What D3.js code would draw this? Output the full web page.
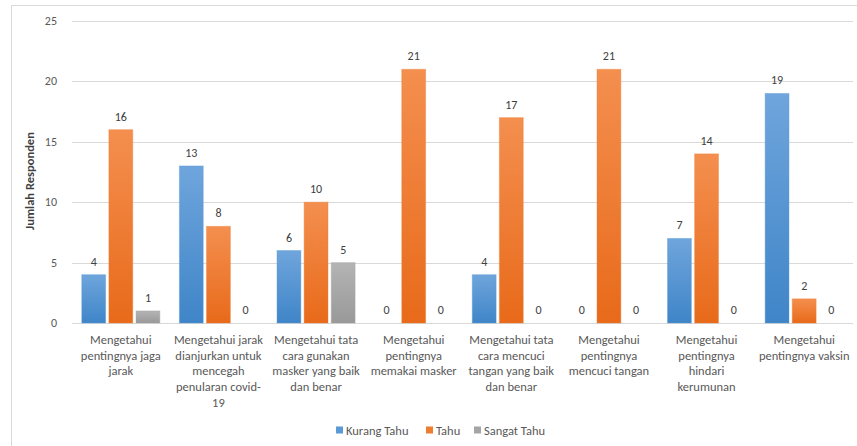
<!DOCTYPE html>
<html>
<head>
<meta charset="utf-8">
<style>
  body { margin: 0; background: #fff; }
  text { font-family: Calibri, Carlito, Lato, sans-serif; }
</style>
</head>
<body>
<svg width="857" height="446"></svg>
<script src="https://d3js.org/d3.v7.min.js"></script>
<script>
// data
var categories = [
  ["Mengetahui", "pentingnya jaga", "jarak"],
  ["Mengetahui jarak", "dianjurkan untuk", "mencegah", "penularan covid-", "19"],
  ["Mengetahui tata", "cara gunakan", "masker yang baik", "dan benar"],
  ["Mengetahui", "pentingnya", "memakai masker"],
  ["Mengetahui tata", "cara mencuci", "tangan yang baik", "dan benar"],
  ["Mengetahui", "pentingnya", "mencuci tangan"],
  ["Mengetahui", "pentingnya", "hindari", "kerumunan"],
  ["Mengetahui", "pentingnya vaksin"]
];
var seriesNames = ["Kurang Tahu", "Tahu", "Sangat Tahu"];
var kurangTahu = [4, 13, 6, 0, 4, 0, 7, 19];
var tahu = [16, 8, 10, 21, 17, 21, 14, 2];
var sangatTahu = [1, 0, 5, 0, 0, 0, 0, 0];
var yTicks = [0, 5, 10, 15, 20, 25];

function draw() {
  var series = [kurangTahu, tahu, sangatTahu];
  var colors = [["#6fa5dc", "#3f85c8"], ["#f48f4f", "#e86a1a"], ["#b4b4b4", "#999999"]];
  var legendColors = ["#5b9bd5", "#ed7d31", "#a5a5a5"];

  var svg = d3.select("svg");
  var grey = "#595959";

  // outer chart border
  svg.append("rect")
    .attr("x", 11.5).attr("y", 5.5)
    .attr("width", 900).attr("height", 500)
    .attr("fill", "none").attr("stroke", "#d9d9d9");

  var defs = svg.append("defs");
  colors.forEach(function(c, i) {
    var g = defs.append("linearGradient").attr("id", "g" + i)
      .attr("x1", 0).attr("y1", 0).attr("x2", 0).attr("y2", 1);
    g.append("stop").attr("offset", "0%").attr("stop-color", c[0]);
    g.append("stop").attr("offset", "100%").attr("stop-color", c[1]);
  });

  var pLeft = 72, pRight = 853, pTop = 21, pBottom = 323;

  var x = d3.scaleBand().domain(d3.range(categories.length))
    .range([pLeft, pRight]).paddingInner(0.2).paddingOuter(0.1);
  var xs = d3.scaleBand().domain(d3.range(series.length))
    .range([0, x.bandwidth()]).paddingInner(0.12);
  var y = d3.scaleLinear().domain([0, 25]).range([pBottom, pTop]);

  // gridlines
  svg.append("g").selectAll("line").data(yTicks).join("line")
    .attr("x1", pLeft).attr("x2", pRight)
    .attr("y1", function(d) { return Math.round(y(d)) + 0.5; })
    .attr("y2", function(d) { return Math.round(y(d)) + 0.5; })
    .attr("stroke", "#d9d9d9").attr("stroke-width", 1);

  // y tick labels
  svg.append("g").selectAll("text").data(yTicks).join("text")
    .attr("x", 57).attr("y", function(d) { return y(d) + 4; })
    .attr("text-anchor", "end")
    .attr("font-size", "12px").attr("fill", grey)
    .text(function(d) { return d; });

  // y axis title
  svg.append("text")
    .attr("transform", "translate(34,181) rotate(-90)")
    .attr("text-anchor", "middle")
    .attr("font-size", "12.5px").attr("font-weight", "bold").attr("fill", "#404040")
    .text("Jumlah Responden");

  // bars
  series.forEach(function(vals, s) {
    var g = svg.append("g");
    g.selectAll("rect").data(vals).join("rect")
      .attr("x", function(d, i) { return x(i) + xs(s); })
      .attr("y", function(d) { return y(d); })
      .attr("width", xs.bandwidth())
      .attr("height", function(d) { return y(0) - y(d); })
      .attr("fill", "url(#g" + s + ")")
      .attr("stroke", legendColors[s]).attr("stroke-opacity", 0.4);
    g.selectAll("text").data(vals).join("text")
      .attr("x", function(d, i) { return x(i) + xs(s) + xs.bandwidth() / 2; })
      .attr("y", function(d) { return y(d) - 9; })
      .attr("text-anchor", "middle")
      .attr("font-size", "12px").attr("fill", "#404040")
      .text(function(d) { return d; });
  });

  // category labels
  var cat = svg.append("g").selectAll("text").data(categories).join("text")
    .attr("text-anchor", "middle")
    .attr("font-size", "12.5px").attr("fill", grey);
  cat.each(function(lines, i) {
    d3.select(this).selectAll("tspan").data(lines).join("tspan")
      .attr("x", x(i) + x.bandwidth() / 2)
      .attr("y", function(d, j) { return 344 + j * 15.7; })
      .text(function(d) { return d; });
  });

  // legend
  var legX = [336, 426, 474];
  var leg = svg.append("g").selectAll("g").data(seriesNames).join("g")
    .attr("transform", function(d, i) { return "translate(" + legX[i] + ",430)"; });
  leg.append("rect").attr("x", 0).attr("y", -3.5).attr("width", 7).attr("height", 7)
    .attr("fill", function(d, i) { return legendColors[i]; });
  leg.append("text").attr("x", 10).attr("y", 4.5)
    .attr("font-size", "12.5px").attr("fill", grey)
    .text(function(d) { return d; });
}
draw();
</script>
</body>
</html>
